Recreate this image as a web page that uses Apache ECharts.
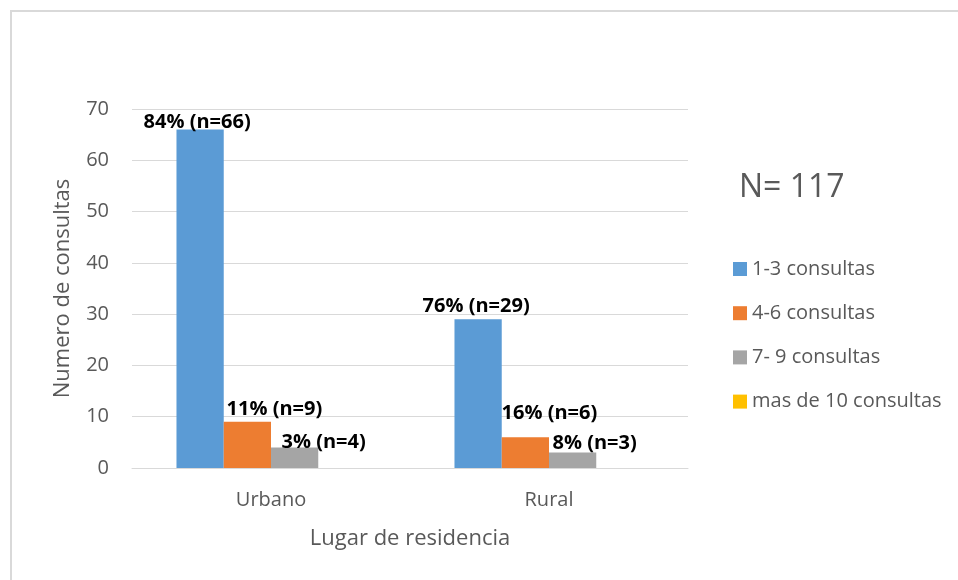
<!DOCTYPE html>
<html>
<head>
<meta charset="utf-8">
<script src="https://cdn.jsdelivr.net/npm/echarts@6/dist/echarts.min.js"></script>
<style>html,body{margin:0;padding:0;background:#fff}#c{width:958px;height:580px}</style>
</head>
<body>
<div id="c"></div>
<script>
const categories = ['Urbano', 'Rural'];
const seriesNames = ['1-3 consultas', '4-6 consultas', '7- 9 consultas', 'mas de 10 consultas'];
const v13 = [66, 29];
const v46 = [9, 6];
const v79 = [4, 3];
const v10 = [0, 0];
const pct13 = [84, 76];
const pct46 = [11, 16];
const pct79 = [3, 8];
const yTicks = [0, 10, 20, 30, 40, 50, 60, 70];
const totalN = 117;

const colors = ['#5b9bd5', '#ed7d31', '#a5a5a5', '#ffc000'];
const font = '"Open Sans", "Noto Sans", sans-serif';
const txt = '#595959';
// label offsets per series per category (layout only)
const labelOffsets = [
  [[-3, 6], [-2, 0]],
  [[27, 0], [24, -11]],
  [[29, 8], [22, 4]],
  [[0, 0], [0, 0]]
];
const values = [v13, v46, v79, v10];
const pcts = [pct13, pct46, pct79, null];

const series = values.map((vals, si) => ({
  name: seriesNames[si],
  type: 'bar',
  barGap: '0%',
  barCategoryGap: '32%',
  itemStyle: { color: colors[si] },
  data: vals.map((v, ci) => ({
    value: v,
    label: {
      show: pcts[si] !== null,
      position: 'top',
      distance: 3,
      offset: labelOffsets[si][ci],
      formatter: pcts[si] ? (pcts[si][ci] + '% (n=' + v + ')') : '',
      color: '#000',
      fontWeight: 'bold',
      fontSize: 20,
      fontFamily: font
    }
  }))
}));

const chart = echarts.init(document.getElementById('c'));
chart.setOption({
  animation: false,
  backgroundColor: '#fff',
  textStyle: { fontFamily: font },
  graphic: [
    { type: 'rect', shape: { x: 11, y: 11, width: 960, height: 600 }, style: { fill: 'none', stroke: '#d9d9d9', lineWidth: 2 } },
    { type: 'text', left: 739, top: 172, style: { text: 'N= ' + totalN, fill: txt, fontSize: 32, fontFamily: font } }
  ],
  grid: { left: 132, right: 270, top: 109, bottom: 112 },
  legend: {
    orient: 'vertical',
    left: 728,
    top: 254,
    itemWidth: 14,
    itemHeight: 14,
    itemGap: 24.2,
    icon: 'rect',
    data: seriesNames,
    textStyle: { color: txt, fontSize: 20, fontFamily: font }
  },
  xAxis: {
    type: 'category',
    data: categories,
    name: 'Lugar de residencia',
    nameLocation: 'middle',
    nameGap: 60,
    nameTextStyle: { color: txt, fontSize: 22, fontFamily: font },
    axisLine: { lineStyle: { color: '#d9d9d9', width: 1 } },
    axisTick: { show: false },
    axisLabel: { color: txt, fontSize: 20, fontFamily: font, margin: 22 }
  },
  yAxis: {
    type: 'value',
    min: yTicks[0],
    max: yTicks[yTicks.length - 1],
    interval: yTicks[1] - yTicks[0],
    name: 'Numero de consultas',
    nameLocation: 'middle',
    nameGap: 58,
    nameTextStyle: { color: txt, fontSize: 22, fontFamily: font },
    axisLine: { show: false },
    axisTick: { show: false },
    axisLabel: { color: txt, fontSize: 20, fontFamily: font, margin: 23 },
    splitLine: { lineStyle: { color: '#d9d9d9', width: 1 } }
  },
  series: series
});
</script>
</body>
</html>
